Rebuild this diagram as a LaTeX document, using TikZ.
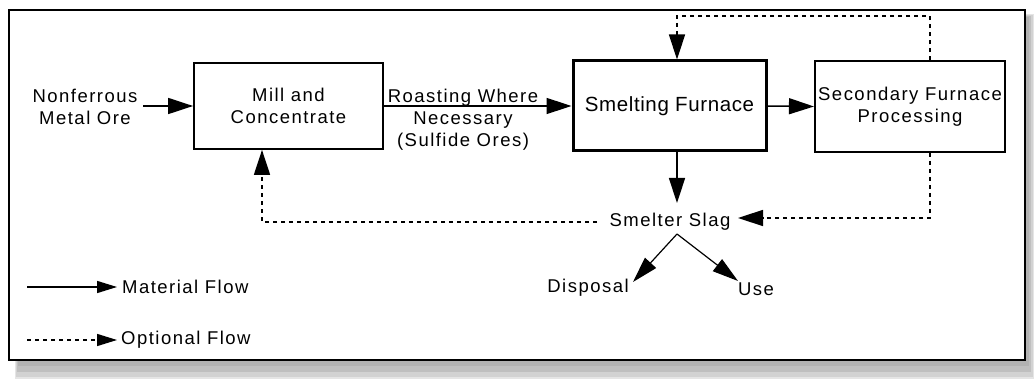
\documentclass[tikz,border=0pt]{standalone}
\usepackage{fontspec}
\setmainfont{Liberation Sans}
\newfontfamily\lblfont[LetterSpace=8]{Liberation Sans}
\newfontfamily\bigfont[LetterSpace=3]{Liberation Sans}
\usetikzlibrary{arrows.meta,calc}
\begin{document}
\begin{tikzpicture}[x=1pt,y=-1pt,
  lbl/.style={font=\lblfont\fontsize{18.5}{22}\selectfont,align=center,inner sep=1pt},
  procbox/.style={draw,line width=1.8pt,minimum width=189pt,minimum height=86pt,font=\lblfont\fontsize{18.5}{22}\selectfont,align=center},
  mainbox/.style={draw,line width=3pt,minimum width=193pt,minimum height=90pt,font=\bigfont\fontsize{20.5}{24}\selectfont,align=center},
  bigtip/.tip={Triangle[length=25pt,width=16pt]},
  legtip/.tip={Triangle[length=20pt,width=12pt]},
  slagtip/.tip={Triangle[length=26pt,width=15pt]},
  flow/.style={line width=1.5pt,-bigtip},
  opt/.style={line width=1.5pt,dash pattern=on 4pt off 4pt,-bigtip},
  legflow/.style={line width=1.5pt,-legtip},
  legopt/.style={line width=1.5pt,dash pattern=on 4pt off 4pt,-legtip},
  slagarrow/.style={line width=1.2pt,-slagtip}]
\useasboundingbox (0,0) rectangle (1034,379);
% shadow
\fill[gray!20] (15,14) rectangle (1034,379);
\fill[gray!35] (16,15) rectangle (1033,377);
\fill[gray!50] (17,16) rectangle (1031,372);
\fill[gray!60] (18,17) rectangle (1029,366);
% frame
\draw[line width=2pt,fill=white] (9,10) rectangle (1025,360);
% nodes
\node[lbl] (ore) at (85,107) {Nonferrous\\Metal Ore};
\node[procbox] (mill) at (288.5,106) {Mill and\\Concentrate};
\node[mainbox] (smelt) at (669.5,106) {Smelting Furnace};
\node[procbox,minimum height=91pt] (sec) at (910,106.5) {Secondary Furnace\\Processing};
\node[lbl] (roast) at (463,120) {Roasting Where\\Necessary\\(Sulfide Ores)};
\node[lbl] (slag) at (670,222) {Smelter Slag};
\node[lbl] (disp) at (588,288) {Disposal};
\node[lbl] (use) at (756,289) {Use};
\node[lbl,anchor=west] (matl) at (121,287) {Material Flow};
\node[lbl,anchor=west] (optl) at (120,340) {Optional Flow};
% coordinates
\coordinate (oreEnd) at (143,106);
\coordinate (topR) at (930,16);
\coordinate (topL) at (677,16);
\coordinate (botR) at (930,218);
\coordinate (botL) at (262,222);
\coordinate (slagTop) at (677,203);
\coordinate (slagBot) at (677,234);
\coordinate (dispTip) at (633,282);
\coordinate (useTip) at (738,281);
\coordinate (slagE) at (738,218);
\coordinate (slagW) at (597,222);
\coordinate (l1a) at (27,287);
\coordinate (l1b) at (117,287);
\coordinate (l2a) at (27,340);
\coordinate (l2b) at (117,340);
% connectors
\draw[flow] (oreEnd) -- (mill.west);
\draw[flow] (mill.east) -- (smelt.west);
\draw[flow] (smelt.east) -- (sec.west);
\draw[flow] (smelt.south -| slagTop) -- (slagTop);
\draw[opt] (sec.north -| topR) -- (topR) -- (topL) -- (smelt.north -| topL);
\draw[opt] (sec.south -| botR) -- (botR) -- (slagE);
\draw[opt] (slagW) -- (botL) -- (mill.south -| botL);
\draw[slagarrow] (slagBot) -- (dispTip);
\draw[slagarrow] (slagBot) -- (useTip);
% legend
\draw[legflow] (l1a) -- (l1b);
\draw[legopt] (l2a) -- (l2b);
\end{tikzpicture}
\end{document}
